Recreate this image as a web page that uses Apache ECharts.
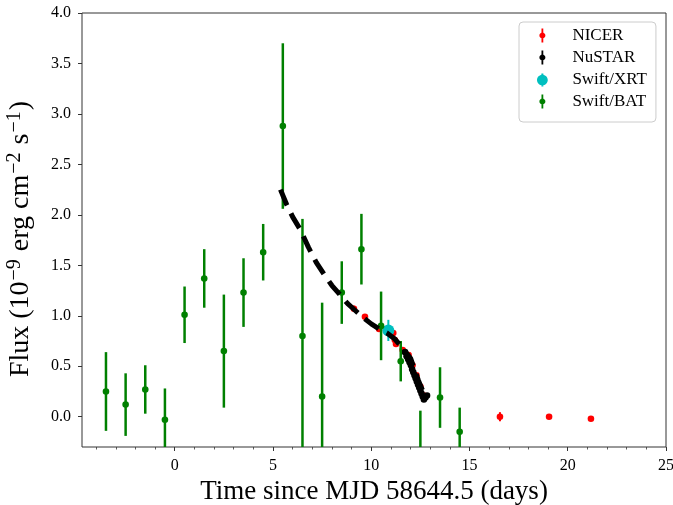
<!DOCTYPE html>
<html>
<head>
<meta charset="utf-8">
<script src="https://cdn.jsdelivr.net/npm/echarts@6/dist/echarts.min.js"></script>
<style>
  html, body { margin: 0; padding: 0; background: #fff; }
  #chart { width: 673px; height: 505px; }
</style>
</head>
<body>
<div id="chart"></div>
<script>
// Swift/BAT daily fluxes (10^-9 erg cm^-2 s^-1) with 1-sigma errors
const batTime = [-3.5, -2.5, -1.5, -0.5, 0.5, 1.5, 2.5, 3.5, 4.5, 5.5, 6.5, 7.5, 8.5, 9.5, 10.5, 11.5, 12.5, 13.5, 14.5];
const batFlux = [0.25, 0.12, 0.27, -0.03, 1.01, 1.37, 0.65, 1.23, 1.63, 2.88, 0.80, 0.20, 1.23, 1.66, 0.90, 0.55, -0.55, 0.19, -0.15];
const batErr  = [0.39, 0.31, 0.24, 0.31, 0.28, 0.29, 0.56, 0.34, 0.28, 0.82, 1.16, 0.93, 0.31, 0.35, 0.34, 0.20, 0.61, 0.30, 0.24];

// NICER
const nicerTime = [9.12, 9.68, 10.40, 11.12, 11.20, 11.26, 11.60, 11.90, 12.10, 12.30, 12.50, 12.68, 16.55, 19.05, 21.18];
const nicerFlux = [1.07, 0.99, 0.87, 0.83, 0.76, 0.72, 0.66, 0.61, 0.51, 0.41, 0.30, 0.21, 0.00, 0.00, -0.02];
const nicerErr  = [0.03, 0.02, 0.02, 0.03, 0.03, 0.02, 0.02, 0.02, 0.02, 0.02, 0.02, 0.02, 0.045, 0.02, 0.015];

// NuSTAR
const nustarTime = [11.72, 11.80, 11.88, 11.95, 12.02, 12.08, 12.14, 12.20, 12.26, 12.32, 12.38, 12.44, 12.50, 12.56, 12.62, 12.68, 12.76, 12.84];
const nustarFlux = [0.64, 0.60, 0.57, 0.54, 0.51, 0.47, 0.44, 0.41, 0.38, 0.35, 0.32, 0.29, 0.26, 0.23, 0.20, 0.17, 0.19, 0.21];
const nustarErr  = [0.02, 0.02, 0.02, 0.02, 0.02, 0.02, 0.02, 0.02, 0.02, 0.02, 0.02, 0.02, 0.02, 0.02, 0.02, 0.02, 0.02, 0.02];

// Swift/XRT
const xrtTime = [10.87];
const xrtFlux = [0.855];
const xrtErr  = [0.105];

// Decay model curve (dashed)
const modelTime = [5.38, 5.7, 6.0, 6.4, 6.8, 7.2, 7.6, 8.0, 8.4, 8.8, 9.2, 9.6, 10.0, 10.4, 10.8, 11.2, 11.6, 12.0, 12.4, 12.7];
const modelFlux = [2.25, 2.10, 1.98, 1.85, 1.68, 1.53, 1.41, 1.30, 1.21, 1.12, 1.05, 0.98, 0.92, 0.87, 0.83, 0.77, 0.68, 0.58, 0.36, 0.22];

// Axis ticks
const xMajorTicks = [0, 5, 10, 15, 20, 25];
const xMinorTicks = [-4, -3, -2, -1, 1, 2, 3, 4, 6, 7, 8, 9, 11, 12, 13, 14, 16, 17, 18, 19, 21, 22, 23, 24];
const yTicks = [0.0, 0.5, 1.0, 1.5, 2.0, 2.5, 3.0, 3.5, 4.0];

const SERIF = '"Liberation Serif", "Times New Roman", serif';

function rows(t, f, e) { return t.map((x, i) => [x, f[i], e[i]]); }

// vertical error bar plus filled circular marker, clipped to the plot box
function errorBar(radius, lineW) {
  return function (params, api) {
    const x = api.value(0), y = api.value(1), e = api.value(2);
    const top = api.coord([x, y + e]);
    const bot = api.coord([x, y - e]);
    const c = api.coord([x, y]);
    const cs = params.coordSys;
    const y0 = Math.max(top[1], cs.y);
    const y1 = Math.min(bot[1], cs.y + cs.height);
    const color = api.visual('color');
    const children = [];
    if (y1 > y0) {
      children.push({ type: 'line', shape: { x1: c[0], y1: y0, x2: c[0], y2: y1 },
        style: { stroke: color, lineWidth: lineW } });
    }
    if (c[1] >= cs.y - 0.5 && c[1] <= cs.y + cs.height + 0.5) {
      children.push({ type: 'circle', shape: { cx: c[0], cy: c[1], r: radius },
        style: { fill: color } });
    }
    return { type: 'group', children: children };
  };
}

function pointSeries(name, data, color, radius, lineW) {
  return {
    name: name,
    type: 'custom',
    symbolKeepAspect: true,
    itemStyle: { color: color },
    renderItem: errorBar(radius, lineW),
    encode: { x: 0, y: 1 },
    data: data,
    animation: false
  };
}

// legend glyphs: vertical bar with a dot (same winding so they merge)
const iconBar = 'path://M2.1,0h1.8v14h-1.8z M0,7C0,5.343 1.343,4 3,4C4.657,4 6,5.343 6,7C6,8.657 4.657,10 3,10C1.343,10 0,8.657 0,7z';
const iconBig = 'path://M4.1,1h1.8v12h-1.8z M0,7C0,4.239 2.239,2 5,2C7.761,2 10,4.239 10,7C10,9.761 7.761,12 5,12C2.239,12 0,9.761 0,7z M5,0L5,0';

const chart = echarts.init(document.getElementById('chart'), null, { renderer: 'canvas' });

chart.setOption({
  animation: false,
  backgroundColor: '#ffffff',
  grid: {
    left: 82, top: 13, width: 584, height: 434,
    outerBoundsMode: 'none',
    show: true, borderColor: '#333333', borderWidth: 1, backgroundColor: 'transparent'
  },
  legend: {
    orient: 'vertical',
    left: 519, top: 22,
    padding: [5, 9, 12, 18],
    itemWidth: 12, itemHeight: 14, itemGap: 5,
    backgroundColor: 'rgba(255,255,255,0.8)',
    borderColor: '#cccccc', borderWidth: 1, borderRadius: 4,
    textStyle: { fontFamily: SERIF, fontSize: 17, color: '#000', lineHeight: 16, padding: [0, 0, 0, 19] },
    data: [
      { name: 'NICER', icon: iconBar, itemStyle: { color: '#ff0000' } },
      { name: 'NuSTAR', icon: iconBar, itemStyle: { color: '#000000' } },
      { name: 'Swift/XRT', icon: iconBig, itemStyle: { color: '#00bfbf' } },
      { name: 'Swift/BAT', icon: iconBar, itemStyle: { color: '#008000' } }
    ]
  },
  xAxis: [
    {
      type: 'value', min: -4.72, max: 25,
      name: 'Time since MJD 58644.5 (days)',
      nameLocation: 'middle', nameGap: 30,
      nameTextStyle: { fontFamily: SERIF, fontSize: 27, color: '#000' },
      axisLine: { show: false, onZero: false },
      splitLine: { show: false },
      axisTick: { show: true, inside: false, length: 4, customValues: xMajorTicks,
        lineStyle: { color: '#333', width: 1 } },
      axisLabel: { customValues: xMajorTicks, margin: 11, fontFamily: SERIF, fontSize: 16, color: '#000' }
    },
    {
      type: 'value', min: -4.72, max: 25, position: 'bottom',
      axisLine: { show: false, onZero: false },
      splitLine: { show: false },
      axisLabel: { show: false },
      axisTick: { show: true, inside: false, length: 2.5, customValues: xMinorTicks,
        lineStyle: { color: '#333', width: 0.8 } }
    }
  ],
  yAxis: {
    type: 'value', min: -0.3, max: 4.0,
    name: 'Flux (10{s|−9} erg cm{s|−2} s{s|−1})',
    nameLocation: 'middle', nameGap: 45, nameRotate: 90,
    nameTextStyle: {
      fontFamily: SERIF, fontSize: 28, color: '#000', lineHeight: 32, padding: [0, 18, 0, 0],
      rich: { s: { fontFamily: SERIF, fontSize: 20, color: '#000', verticalAlign: 'top', lineHeight: 32, padding: [0, 1, 12, 1] } }
    },
    axisLine: { show: false, onZero: false },
    splitLine: { show: false },
    axisTick: { show: true, inside: false, length: 4, customValues: yTicks,
      lineStyle: { color: '#333', width: 1 } },
    axisLabel: {
      customValues: yTicks, margin: 11, fontFamily: SERIF, fontSize: 16, color: '#000',
      formatter: v => v.toFixed(1)
    }
  },
  series: [
    {
      name: 'model', type: 'line', showSymbol: false, silent: true,
      data: modelTime.map((x, i) => [x, modelFlux[i]]),
      lineStyle: { color: '#000', width: 5, type: [17, 9], cap: 'butt' },
      z: 2
    },
    pointSeries('NICER', rows(nicerTime, nicerFlux, nicerErr), '#ff0000', 3.3, 2),
    pointSeries('NuSTAR', rows(nustarTime, nustarFlux, nustarErr), '#000000', 3.3, 2),
    pointSeries('Swift/XRT', rows(xrtTime, xrtFlux, xrtErr), '#00bfbf', 6, 2),
    pointSeries('Swift/BAT', rows(batTime, batFlux, batErr), '#008000', 3.3, 2.5)
  ]
});
</script>
</body>
</html>
